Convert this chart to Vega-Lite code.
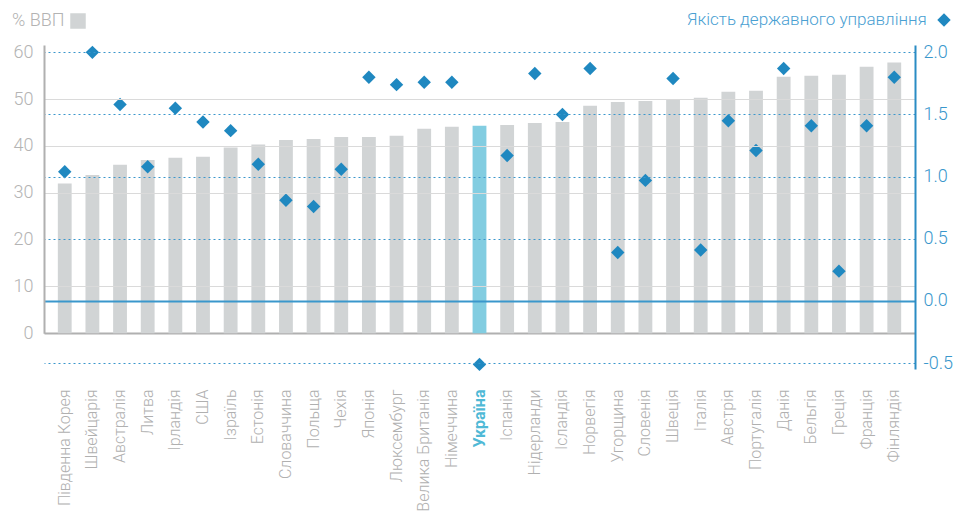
{
  "$schema": "https://vega.github.io/schema/vega-lite/v6.json",
  "width": 871,
  "height": 324,
  "autosize": {"type": "none"},
  "padding": {"left": 44, "top": 45, "right": 40, "bottom": 150},
  "background": "white",
  "config": {"view": {"stroke": null}, "font": "Roboto"},
  "data": {"values": [
    {"country": "Південна Корея", "gdp": 32.0, "gov": 1.04},
    {"country": "Швейцарія", "gdp": 33.8, "gov": 2.0},
    {"country": "Австралія", "gdp": 36.0, "gov": 1.58},
    {"country": "Литва", "gdp": 37.0, "gov": 1.08},
    {"country": "Ірландія", "gdp": 37.5, "gov": 1.55},
    {"country": "США", "gdp": 37.7, "gov": 1.44},
    {"country": "Ізраїль", "gdp": 39.7, "gov": 1.37},
    {"country": "Естонія", "gdp": 40.3, "gov": 1.10},
    {"country": "Словаччина", "gdp": 41.3, "gov": 0.81},
    {"country": "Польща", "gdp": 41.5, "gov": 0.76},
    {"country": "Чехія", "gdp": 41.9, "gov": 1.06},
    {"country": "Японія", "gdp": 41.9, "gov": 1.80},
    {"country": "Люксембург", "gdp": 42.2, "gov": 1.74},
    {"country": "Велика Британія", "gdp": 43.7, "gov": 1.76},
    {"country": "Німеччина", "gdp": 44.1, "gov": 1.76},
    {"country": "Україна", "gdp": 44.3, "gov": -0.51},
    {"country": "Іспанія", "gdp": 44.5, "gov": 1.17},
    {"country": "Нідерланди", "gdp": 44.9, "gov": 1.83},
    {"country": "Ісландія", "gdp": 45.1, "gov": 1.50},
    {"country": "Норвегія", "gdp": 48.6, "gov": 1.87},
    {"country": "Угорщина", "gdp": 49.4, "gov": 0.39},
    {"country": "Словенія", "gdp": 49.6, "gov": 0.97},
    {"country": "Швеція", "gdp": 50.0, "gov": 1.79},
    {"country": "Італія", "gdp": 50.3, "gov": 0.41},
    {"country": "Австрія", "gdp": 51.6, "gov": 1.45},
    {"country": "Португалія", "gdp": 51.8, "gov": 1.21},
    {"country": "Данія", "gdp": 54.8, "gov": 1.87},
    {"country": "Бельгія", "gdp": 55.0, "gov": 1.41},
    {"country": "Греція", "gdp": 55.2, "gov": 0.24},
    {"country": "Франція", "gdp": 56.9, "gov": 1.41},
    {"country": "Фінляндія", "gdp": 57.8, "gov": 1.80}
  ]},
  "encoding": {
    "x": {
      "field": "country", "type": "nominal", "sort": null,
      "scale": {"paddingInner": 0.5, "paddingOuter": 0.5},
      "axis": {
        "title": null, "offset": -36, "domain": true, "domainColor": "#b0b0b0", "domainWidth": 2,
        "ticks": false, "tickSize": 0, "labelAngle": -90, "labelPadding": 56,
        "labelFontSize": 16, "labelLimit": 200, "grid": false,
        "labelFontWeight": {"condition": {"test": "datum.value === 'Україна'", "value": "bold"}, "value": 300},
        "labelColor": {"condition": {"test": "datum.value === 'Україна'", "value": "#4fb9d6"}, "value": "#b0b0b0"}
      }
    }
  },
  "layer": [
    {
      "mark": {"type": "bar"},
      "encoding": {
        "y": {
          "field": "gdp", "type": "quantitative",
          "scale": {"domain": [0, 61.56], "range": [288.3, 0], "nice": false, "zero": false},
          "axis": {
            "title": null, "values": [0, 10, 20, 30, 40, 50, 60],
            "domainColor": "#b0b0b0", "domainWidth": 2, "ticks": false, "tickSize": 0,
            "labelPadding": 11, "labelFontSize": 18, "labelFontWeight": 300, "labelColor": "#b4b4b4",
            "grid": true, "gridWidth": 1, "zindex": 1,
            "gridColor": {"condition": {"test": "datum.value === 0 || datum.value === 20 || datum.value === 60", "value": "transparent"}, "value": "#dadada"}
          }
        },
        "fill": {
          "condition": {"test": "datum.country === 'Україна'", "value": "#82cde1"},
          "datum": "% ВВП",
          "scale": {"range": ["#d1d4d5"]},
          "legend": {
            "orient": "none", "legendX": -32, "legendY": -32, "title": "% ВВП", "titleOrient": "left",
            "titleColor": "#b3b3b3", "titleFontSize": 18, "titleFontWeight": 300, "titlePadding": 5,
            "labelExpr": "''", "labelOffset": 0, "symbolType": "square", "symbolSize": 240, "symbolStrokeWidth": 0
          }
        }
      }
    },
    {
      "mark": {"type": "point", "filled": true, "size": 180, "opacity": 1},
      "encoding": {
        "y": {
          "field": "gov", "type": "quantitative",
          "scale": {"domain": [-0.547, 2.059], "nice": false, "zero": false},
          "axis": {
            "orient": "right", "title": null, "values": [-0.5, 0, 0.5, 1, 1.5, 2],
            "labelExpr": "replace(format(datum.value, '.1f'), '−', '-')",
            "domainColor": "#2a8cc4", "domainWidth": 2, "ticks": false, "tickSize": 0,
            "labelPadding": 8, "labelFontSize": 18, "labelFontWeight": 300, "labelColor": "#3a97cc",
            "grid": true, "gridColor": "#3a97cc", "zindex": 1,
            "gridDash": {"condition": {"test": "datum.value === 0", "value": []}, "value": [2, 3]},
            "gridWidth": {"condition": {"test": "datum.value === 0", "value": 2}, "value": 1}
          }
        },
        "shape": {
          "datum": "Якість державного управління",
          "scale": {"range": ["diamond"]},
          "legend": {
            "orient": "none", "legendX": 643, "legendY": -32, "title": "Якість державного управління", "titleOrient": "left",
            "titleColor": "#4aa0d2", "titleFontSize": 17, "titleFontWeight": 300, "titlePadding": 10, "titleLimit": 500,
            "labelExpr": "''", "labelOffset": 0, "symbolSize": 180, "symbolFillColor": "#1f88c0", "symbolStrokeWidth": 0
          }
        },
        "color": {"value": "#1f88c0"}
      }
    }
  ],
  "resolve": {"scale": {"y": "independent"}}
}
